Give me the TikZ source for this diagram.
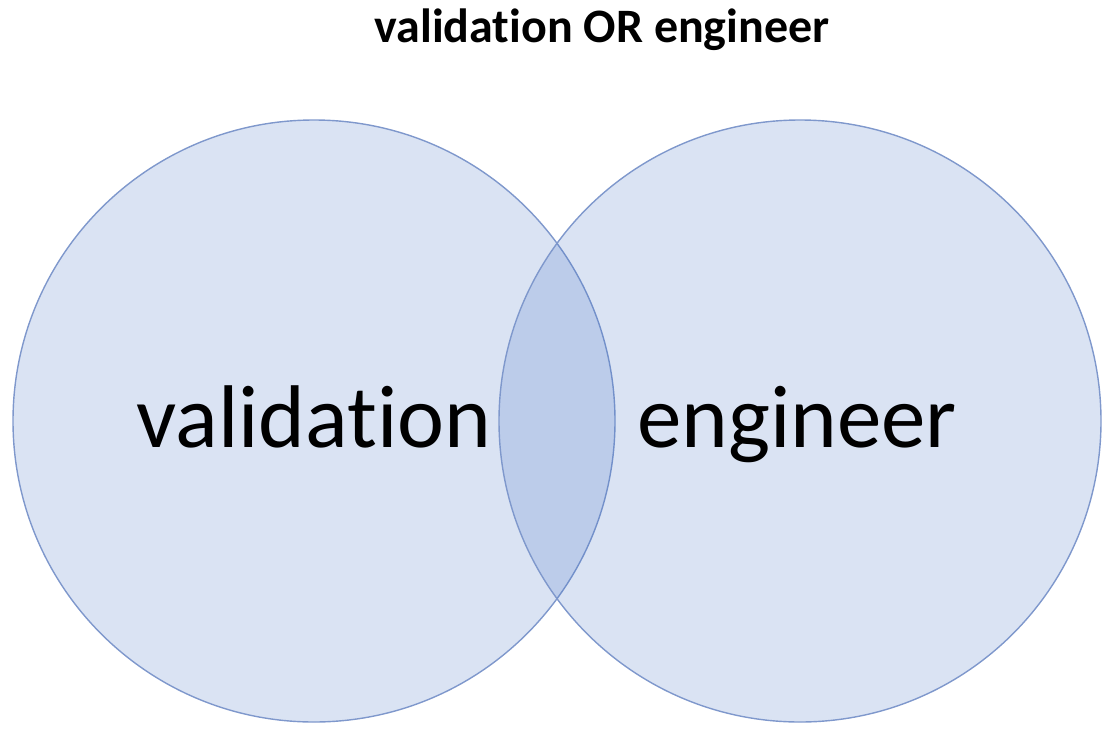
\documentclass[tikz,border=0pt]{standalone}
\usepackage{fontspec}
\setmainfont{Carlito}[Ligatures=NoCommon]
\definecolor{setfill}{HTML}{4472C4}
\definecolor{setline}{HTML}{7F98CC}
\tikzset{%
	setcircle/.style = {circle, draw=setline, line width=1.4pt, fill=setfill,
		fill opacity=0.2, draw opacity=1, minimum size=602pt, inner sep=0pt}, % one set
	setlabel/.style  = {anchor=base, font=\fontsize{89}{96}\selectfont}, % label
	heading/.style   = {anchor=base, font=\fontsize{48}{54}\selectfont\bfseries} % title
}
\begin{document}
\begin{tikzpicture}[x=1pt,y=-1pt]
	\useasboundingbox (0,0) rectangle (1114,729);
	\node[setcircle] (valCircle) at (314,421) {};
	\node[setcircle] (engCircle) at (800,421) {};

	\node[setlabel] (valLabel) at (314,447) {validation};
	\node[setlabel] (engLabel) at (797,447) {engineer};
	\node[heading]  (title)    at (602,42) {validation OR engineer};
\end{tikzpicture}
\end{document}
